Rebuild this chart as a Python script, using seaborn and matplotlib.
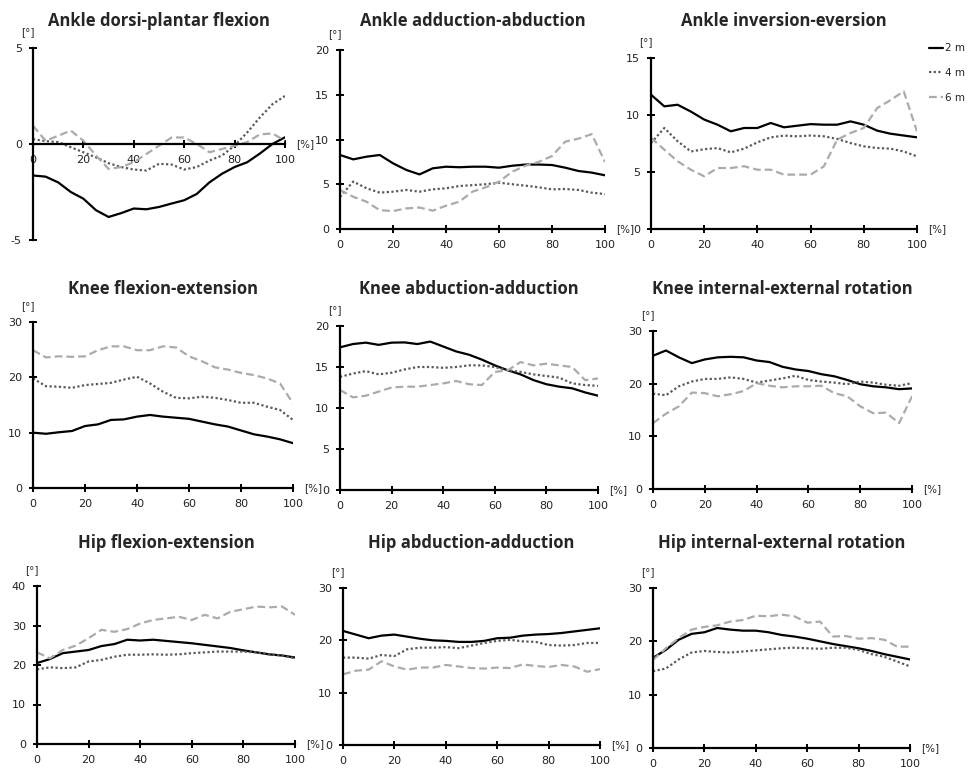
import matplotlib.pyplot as plt
import seaborn as sns
import numpy as np
import pandas as pd

# gait cycle [%], read every 5 %
cycle = np.arange(0, 101, 5)
distances = ['2 m', '4 m', '6 m']

ankle_dp_2m = [-1.64, -1.7, -2.0, -2.5, -2.85, -3.45, -3.8, -3.6, -3.36, -3.4, -3.28, -3.1, -2.93, -2.6, -2.0, -1.55, -1.2, -0.95, -0.5, 0.0, 0.35]
ankle_dp_4m = [0.25, 0.15, 0.1, -0.17, -0.43, -0.7, -1.0, -1.2, -1.33, -1.38, -1.03, -1.07, -1.33, -1.2, -0.86, -0.6, -0.08, 0.6, 1.38, 2.07, 2.5]
ankle_dp_6m = [0.95, 0.17, 0.43, 0.7, 0.17, -0.6, -1.3, -1.2, -0.95, -0.52, -0.09, 0.34, 0.34, 0.0, -0.43, -0.26, -0.1, 0.1, 0.5, 0.55, 0.17]

ankle_aa_2m = [8.27, 7.78, 8.08, 8.27, 7.34, 6.6, 6.1, 6.78, 6.96, 6.9, 6.96, 6.96, 6.85, 7.07, 7.2, 7.2, 7.15, 6.85, 6.48, 6.3, 6.0]
ankle_aa_4m = [3.6, 5.3, 4.55, 4.06, 4.17, 4.36, 4.17, 4.43, 4.55, 4.8, 4.9, 5.0, 5.18, 5.0, 4.84, 4.66, 4.43, 4.47, 4.36, 4.06, 3.9]
ankle_aa_6m = [4.36, 3.6, 3.05, 2.1, 2.0, 2.3, 2.4, 2.05, 2.6, 3.05, 4.17, 4.66, 5.29, 6.4, 7.07, 7.5, 8.15, 9.76, 10.1, 10.6, 7.5]

ankle_ie_2m = [11.78, 10.76, 10.9, 10.3, 9.6, 9.15, 8.57, 8.86, 8.86, 9.3, 8.92, 9.06, 9.2, 9.15, 9.15, 9.44, 9.15, 8.63, 8.36, 8.2, 8.04]
ankle_ie_4m = [7.54, 8.86, 7.7, 6.8, 7.0, 7.1, 6.72, 7.05, 7.6, 8.04, 8.19, 8.13, 8.2, 8.13, 7.9, 7.54, 7.25, 7.1, 7.05, 6.8, 6.37]
ankle_ie_6m = [8.0, 6.96, 5.94, 5.2, 4.62, 5.35, 5.35, 5.5, 5.2, 5.2, 4.77, 4.77, 4.77, 5.5, 7.84, 8.42, 8.86, 10.6, 11.3, 12.08, 8.57]

knee_fe_2m = [10.0, 9.8, 10.08, 10.3, 11.2, 11.5, 12.3, 12.4, 12.9, 13.2, 12.9, 12.7, 12.5, 12.0, 11.5, 11.1, 10.4, 9.7, 9.3, 8.8, 8.1]
knee_fe_4m = [19.8, 18.4, 18.3, 18.1, 18.6, 18.8, 19.0, 19.6, 20.1, 18.9, 17.4, 16.3, 16.2, 16.5, 16.3, 15.9, 15.4, 15.4, 14.7, 14.1, 12.3]
knee_fe_6m = [24.9, 23.6, 23.8, 23.7, 23.8, 24.9, 25.6, 25.6, 24.9, 24.9, 25.6, 25.4, 23.8, 22.9, 21.8, 21.4, 20.8, 20.4, 19.8, 18.9, 15.3]

knee_aa_2m = [17.4, 17.8, 17.97, 17.7, 17.97, 18.0, 17.8, 18.1, 17.5, 16.9, 16.5, 15.9, 15.2, 14.6, 14.1, 13.4, 12.9, 12.6, 12.4, 11.9, 11.5]
knee_aa_4m = [13.8, 14.2, 14.5, 14.1, 14.3, 14.7, 15.0, 15.0, 14.9, 15.0, 15.2, 15.2, 15.0, 14.6, 14.4, 14.1, 13.9, 13.7, 13.0, 12.8, 12.7]
knee_aa_6m = [12.2, 11.3, 11.5, 12.0, 12.5, 12.6, 12.6, 12.8, 13.0, 13.3, 12.9, 12.8, 14.4, 14.6, 15.6, 15.2, 15.4, 15.2, 15.0, 13.4, 13.6]

knee_rot_2m = [25.3, 26.3, 25.0, 23.9, 24.6, 25.0, 25.1, 25.0, 24.4, 24.1, 23.2, 22.7, 22.4, 21.8, 21.4, 20.7, 19.9, 19.5, 19.3, 18.95, 19.1]
knee_rot_4m = [18.1, 17.8, 19.5, 20.4, 20.9, 20.9, 21.2, 20.9, 20.2, 20.6, 21.0, 21.5, 20.7, 20.4, 20.2, 19.9, 20.4, 20.2, 19.8, 19.6, 20.1]
knee_rot_6m = [12.5, 14.3, 15.7, 18.3, 18.2, 17.6, 18.0, 18.6, 20.1, 19.6, 19.3, 19.5, 19.5, 19.6, 18.2, 17.6, 15.7, 14.4, 14.5, 12.5, 17.6]

hip_fe_2m = [20.5, 21.5, 23.0, 23.4, 23.8, 24.8, 25.3, 26.4, 26.2, 26.4, 26.1, 25.8, 25.5, 25.1, 24.7, 24.3, 23.7, 23.2, 22.7, 22.4, 21.9]
hip_fe_4m = [18.9, 19.4, 19.2, 19.4, 20.9, 21.3, 22.1, 22.6, 22.6, 22.7, 22.6, 22.7, 23.0, 23.2, 23.4, 23.4, 23.4, 23.2, 22.7, 22.4, 21.7]
hip_fe_6m = [23.2, 21.7, 23.8, 24.9, 26.8, 28.9, 28.4, 29.1, 30.5, 31.4, 31.8, 32.2, 31.4, 32.7, 31.8, 33.5, 34.1, 34.8, 34.6, 34.8, 32.7]

hip_aa_2m = [21.8, 21.1, 20.4, 20.9, 21.1, 20.7, 20.3, 20.0, 19.9, 19.7, 19.7, 19.9, 20.4, 20.5, 20.9, 21.1, 21.2, 21.4, 21.7, 22.0, 22.3]
hip_aa_4m = [16.7, 16.7, 16.5, 17.2, 17.0, 18.3, 18.6, 18.6, 18.7, 18.5, 19.0, 19.5, 19.9, 20.1, 19.8, 19.7, 19.1, 19.0, 19.1, 19.5, 19.5]
hip_aa_6m = [13.5, 14.2, 14.4, 16.0, 15.0, 14.4, 14.8, 14.8, 15.3, 15.0, 14.7, 14.6, 14.8, 14.7, 15.4, 15.1, 14.9, 15.3, 15.0, 14.0, 14.5]

hip_rot_2m = [16.9, 18.4, 20.3, 21.4, 21.7, 22.5, 22.2, 22.0, 22.0, 21.7, 21.2, 20.9, 20.5, 20.0, 19.5, 19.1, 18.7, 18.2, 17.6, 17.1, 16.6]
hip_rot_4m = [14.4, 14.9, 16.6, 17.9, 18.2, 18.0, 17.9, 18.1, 18.3, 18.5, 18.7, 18.8, 18.7, 18.6, 18.8, 18.8, 18.4, 17.6, 17.1, 16.2, 15.3]
hip_rot_6m = [16.5, 18.7, 20.6, 22.2, 22.7, 23.0, 23.7, 24.0, 24.8, 24.7, 25.0, 24.7, 23.5, 23.7, 20.9, 21.0, 20.5, 20.6, 20.3, 19.0, 19.0]

panels = [
    ('Ankle dorsi-plantar flexion', [-5, 0, 5], (ankle_dp_2m, ankle_dp_4m, ankle_dp_6m)),
    ('Ankle adduction-abduction', [0, 5, 10, 15, 20], (ankle_aa_2m, ankle_aa_4m, ankle_aa_6m)),
    ('Ankle inversion-eversion', [0, 5, 10, 15], (ankle_ie_2m, ankle_ie_4m, ankle_ie_6m)),
    ('Knee flexion-extension', [0, 10, 20, 30], (knee_fe_2m, knee_fe_4m, knee_fe_6m)),
    ('Knee abduction-adduction', [0, 5, 10, 15, 20], (knee_aa_2m, knee_aa_4m, knee_aa_6m)),
    ('Knee internal-external rotation', [0, 10, 20, 30], (knee_rot_2m, knee_rot_4m, knee_rot_6m)),
    ('Hip flexion-extension', [0, 10, 20, 30, 40], (hip_fe_2m, hip_fe_4m, hip_fe_6m)),
    ('Hip abduction-adduction', [0, 10, 20, 30], (hip_aa_2m, hip_aa_4m, hip_aa_6m)),
    ('Hip internal-external rotation', [0, 10, 20, 30], (hip_rot_2m, hip_rot_4m, hip_rot_6m)),
]

# axes boxes in pixels (left, top, right, bottom) and title row heights
boxes = [(33, 48, 285, 240), (340, 50, 605, 229), (651, 58, 917, 229),
         (33, 322, 293, 488), (340, 326, 598, 490), (653, 331, 912, 489),
         (37, 586, 295, 744), (343, 588, 600, 745), (653, 588, 910, 748)]
title_y = [21, 289, 543]

W, H = 971, 769
sns.set_theme(style='white')
plt.rcParams['font.family'] = ['DejaVu Sans']
plt.rcParams['axes.unicode_minus'] = False

palette = {'2 m': 'black', '4 m': '#5a5a5a', '6 m': '#ababab'}
dashes = {'2 m': '', '4 m': (1, 1.1), '6 m': (3.5, 1.8)}

fig = plt.figure(figsize=(W / 100, H / 100), dpi=100)
for i, (title, yticks, series) in enumerate(panels):
    l, t, r, b = boxes[i]
    ax = fig.add_axes([l / W, 1 - b / H, (r - l) / W, (b - t) / H])
    df = pd.DataFrame({
        'cycle': np.tile(cycle, 3),
        'angle': np.concatenate(series),
        'distance': np.repeat(distances, len(cycle)),
    })
    sns.lineplot(data=df, x='cycle', y='angle', hue='distance', style='distance',
                 palette=palette, dashes=dashes, linewidth=1.6, ax=ax,
                 legend=(i == 2))
    ax.set_xlim(0, 100)
    ax.set_ylim(yticks[0], yticks[-1])
    ax.set_xticks([0, 20, 40, 60, 80, 100])
    ax.set_yticks(yticks)
    ax.set_xlabel('')
    ax.set_ylabel('')
    ax.spines[['top', 'right']].set_visible(False)
    for s in ['left', 'bottom']:
        ax.spines[s].set_linewidth(1.6)
        ax.spines[s].set_color('black')
    if yticks[0] < 0:
        ax.spines['bottom'].set_position(('data', 0))
    ax.tick_params(axis='both', bottom=True, left=True, direction='inout',
                   length=6, width=1.4, color='black', labelsize=8,
                   labelcolor='#222222')
    ax.tick_params(axis='x', pad=5)
    ax.tick_params(axis='y', pad=5)
    ax.annotate('[°]', xy=(0, 1), xycoords='axes fraction', xytext=(-4, 8),
                textcoords='offset points', ha='center', va='bottom', fontsize=7.5)
    x_anchor = (1, 0) if yticks[0] >= 0 else (1, 0.5)
    ax.annotate('[%]', xy=x_anchor, xycoords='axes fraction', xytext=(8, 0),
                textcoords='offset points', ha='left', va='center', fontsize=7.5)
    fig.text((l + r) / 2 / W, 1 - title_y[i // 3] / H, title, ha='center', va='center',
             fontsize=12, fontweight='bold', family='Open Sans')
    if i == 2:
        sns.move_legend(ax, 'upper left', bbox_to_anchor=(1.03, 1.11), frameon=False,
                        title=None, fontsize=7.5, handlelength=1.3, handletextpad=0.2,
                        labelspacing=1.4, borderaxespad=0)

fig.savefig('out.png', dpi=100)
